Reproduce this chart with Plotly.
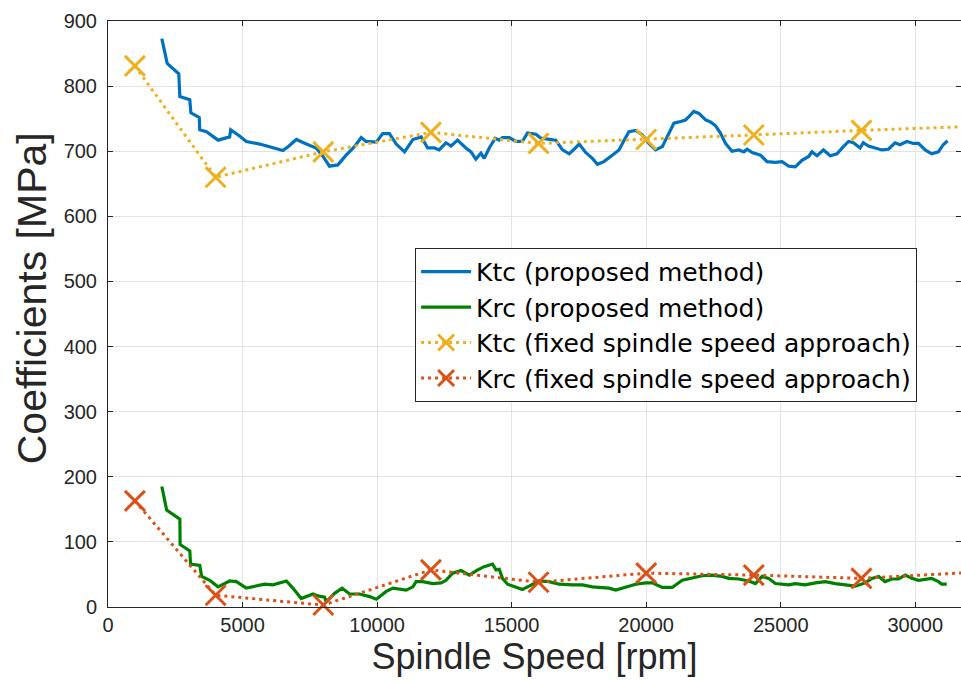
import plotly.graph_objects as go

# ---- data ----
ktc_prop_x = [2000, 2200, 2630, 2670, 3040, 3080, 3390, 3410, 3660, 4090, 4520, 4560, 4900, 5140, 5640,
              6130, 6500, 6690, 7000, 7370, 7740, 7990, 8230, 8540, 8850, 9160, 9410, 9590, 9970, 10210,
              10460, 10710, 11020, 11330, 11640, 11880, 12130, 12310, 12560, 12750, 12990, 13300, 13490,
              13670, 13860, 13980, 14170, 14390, 14540, 14660, 14910, 15160, 15400, 15590, 15900, 16090,
              16390, 16640, 16890, 17140, 17320, 17510, 17750, 18000, 18190, 18430, 18680, 18990, 19180,
              19360, 19610, 19860, 20100, 20350, 20600, 20850, 21030, 21220, 21460, 21590, 21770, 21960,
              22210, 22390, 22580, 22760, 22950, 23190, 23440, 23630, 23750, 23940, 24250, 24490, 24800,
              25050, 25300, 25540, 25790, 26040, 26160, 26350, 26590, 26840, 27090, 27330, 27520, 27700,
              27950, 28070, 28260, 28510, 28760, 29000, 29250, 29430, 29690, 29930, 30120, 30370, 30610,
              30860, 31040, 31200]
ktc_prop_y = [873, 835, 819, 784, 779, 759, 752, 733, 730, 717, 722, 733, 723, 715, 711,
              705, 701, 707, 718, 711, 705, 692, 677, 679, 694, 707, 721, 715, 714, 727,
              727, 711, 699, 718, 722, 705, 705, 702, 713, 708, 717, 705, 699,
              688, 697, 689, 705, 720, 717, 721, 721, 715, 715, 728, 726, 720,
              718, 717, 702, 696, 703, 711, 698, 689, 680, 684, 692, 702, 717,
              730, 732, 725, 712, 702, 707, 728, 743, 745, 748, 753, 761, 758,
              748, 745, 739, 728, 712, 700, 702, 699, 703, 698, 694, 684, 683,
              684, 677, 676, 686, 692, 699, 693, 702, 693, 696, 707, 715, 713,
              705, 713, 708, 705, 702, 703, 713, 710, 715, 712, 712, 702, 696,
              699, 710, 716]

krc_prop_x = [2000, 2180, 2670, 2680, 3040, 3070, 3410, 3480, 3780, 4090, 4520, 4770, 5140, 5520, 5820,
              6130, 6630, 6870, 7180, 7620, 7800, 8050, 8110, 8420, 8700, 8980, 9350, 9720, 9970, 10340,
              10590, 11080, 11330, 11450, 11700, 12070, 12380, 12560, 12810, 13120, 13430, 13740, 13980,
              14290, 14420, 14540, 14660, 14850, 15160, 15400, 15650, 16020, 16390, 16760, 17260, 17630,
              18000, 18250, 18620, 18870, 19240, 19610, 19980, 20230, 20600, 20970, 21340, 21710, 22080,
              22450, 22820, 23070, 23440, 23810, 24060, 24310, 24550, 24800, 25050, 25300, 25540, 25910,
              26290, 26660, 27030, 27400, 27770, 28140, 28390, 28640, 28880, 29130, 29380, 29630, 29870,
              30120, 30370, 30610, 30860, 30990, 31170]
krc_prop_y = [185, 149, 135, 96, 86, 66, 64, 47, 41, 31, 40, 39, 29, 32, 35,
              34, 40, 29, 13, 20, 17, 15, 8, 21, 29, 20, 20, 16, 12, 24,
              29, 26, 31, 39, 39, 36, 37, 41, 52, 56, 49, 57, 62,
              66, 57, 58, 44, 35, 30, 27, 32, 40, 39, 35, 34, 34,
              31, 30, 29, 26, 31, 35, 37, 37, 30, 30, 41, 45, 48,
              49, 47, 44, 43, 40, 36, 47, 44, 36, 35, 34, 36, 34,
              37, 39, 36, 34, 32, 37, 44, 47, 39, 43, 43, 49, 44,
              41, 43, 44, 39, 35, 35]

fixed_x = [1000, 4000, 8000, 12000, 16000, 20000, 24000, 28000, 32000]
ktc_fixed_y = [831, 660, 699, 729, 712, 718, 725, 732, 738]
krc_fixed_y = [163, 18, 3, 57, 38, 52, 49, 44, 53]

x_ticks = [0, 5000, 10000, 15000, 20000, 25000, 30000]
y_ticks = [0, 100, 200, 300, 400, 500, 600, 700, 800, 900]

names = ["Ktc (proposed method)", "Krc (proposed method)",
         "Ktc (fixed spindle speed approach)", "Krc (fixed spindle speed approach)"]
x_title = "Spindle Speed [rpm]"
y_title = "Coefficients [MPa]"

BLUE = "#0072BD"
GREEN = "#008000"
YELLOW = "#EDB120"
ORANGE = "#D95319"
AX = "#262626"

fig = go.Figure()
fig.add_trace(go.Scatter(x=ktc_prop_x, y=ktc_prop_y, mode="lines", name=names[0],
                         line=dict(color=BLUE, width=3.2)))
fig.add_trace(go.Scatter(x=krc_prop_x, y=krc_prop_y, mode="lines", name=names[1],
                         line=dict(color=GREEN, width=3.2)))
fig.add_trace(go.Scatter(x=fixed_x, y=ktc_fixed_y, mode="lines+markers", name=names[2],
                         line=dict(color=YELLOW, width=3, dash="3px,4px"),
                         marker=dict(symbol="x-thin", size=20, line=dict(width=3, color=YELLOW)),
                         cliponaxis=False))
fig.add_trace(go.Scatter(x=fixed_x, y=krc_fixed_y, mode="lines+markers", name=names[3],
                         line=dict(color=ORANGE, width=3, dash="3px,4px"),
                         marker=dict(symbol="x-thin", size=20, line=dict(width=3, color=ORANGE)),
                         cliponaxis=False))

fig.update_layout(
    width=961, height=684,
    margin=dict(l=108, r=0, t=21, b=77),
    plot_bgcolor="white", paper_bgcolor="white",
    font=dict(family="Liberation Sans, Arial, sans-serif", color=AX),
    showlegend=True,
    legend=dict(x=0.36, y=0.613, xanchor="left", yanchor="top",
                bgcolor="white", bordercolor=AX, borderwidth=1,
                font=dict(size=25, color="black", family="DejaVu Sans, sans-serif"),
                itemwidth=50, tracegroupgap=0),
    annotations=[dict(text=y_title, xref="paper", yref="paper", x=-0.089, y=0.527,
                      xanchor="center", yanchor="middle", textangle=-90, showarrow=False,
                      font=dict(size=41, color=AX))],
)
fig.update_xaxes(
    range=[0, 31700], tickvals=x_ticks, ticktext=[str(v) for v in x_ticks],
    ticks="inside", ticklen=5, tickcolor=AX, showline=True, linecolor=AX, linewidth=1,
    mirror="ticks", showgrid=True, gridcolor="#e3e3e3", zeroline=False,
    tickfont=dict(size=20, color=AX),
    title=dict(text=x_title, font=dict(size=36, color=AX), standoff=5),
)
fig.update_yaxes(
    range=[0, 900], tickvals=y_ticks, ticktext=[str(v) for v in y_ticks],
    ticks="inside", ticklen=5, tickcolor=AX, showline=True, linecolor=AX, linewidth=1,
    mirror="ticks", showgrid=True, gridcolor="#e3e3e3", zeroline=False,
    tickfont=dict(size=20, color=AX), ticklabelstandoff=6,
)

fig.write_html("out.html")
